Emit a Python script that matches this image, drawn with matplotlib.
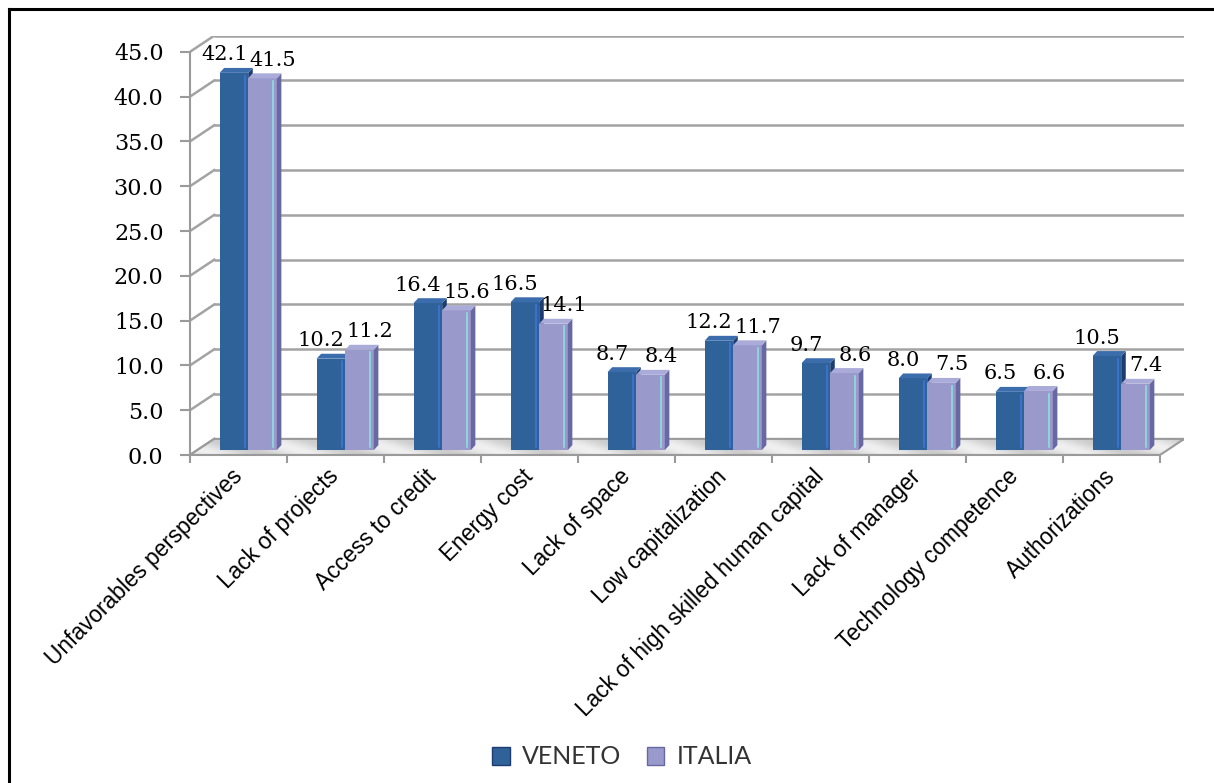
import numpy as np
import matplotlib.pyplot as plt
from matplotlib.patches import Polygon, Patch
from matplotlib.lines import Line2D

# dati
categories = ['Unfavorables perspectives', 'Lack of projects', 'Access to credit',
              'Energy cost', 'Lack of space', 'Low capitalization',
              'Lack of high skilled human capital', 'Lack of manager',
              'Technology competence', 'Authorizations']
veneto = [42.1, 10.2, 16.4, 16.5, 8.7, 12.2, 9.7, 8.0, 6.5, 10.5]
italia = [41.5, 11.2, 15.6, 14.1, 8.4, 11.7, 8.6, 7.5, 6.6, 7.4]
yticks = [0, 5, 10, 15, 20, 25, 30, 35, 40, 45]
series_names = ['VENETO', 'ITALIA']

W, H = 1214, 783
fig = plt.figure(figsize=(W / 100, H / 100), dpi=100)

# finto 3D: profondita' della parete di fondo e posizione delle barre
n = len(categories)
ymax = 45
DX, DY = 0.25, 1.8     # parete di fondo
BX, BY = 0.1, 0.55     # barre a meta' profondita'
SX, SY = 0.047, 0.55   # spessore laterale / faccia superiore
bw = 0.295

ax = fig.add_axes([190 / W, (H - 455) / H, (n + DX) * 97 / W, (ymax + DY) * 8.96 / H])
ax.patch.set_visible(False)

grid_c = '#a3a3a3'
for v in yticks:
    ax.plot([DX, n + DX], [v + DY, v + DY], color=grid_c, lw=1.8, zorder=1,
            solid_capstyle='butt')
    ax.plot([0, DX], [v, v + DY], color=grid_c, lw=1.8, zorder=1)

# pavimento
floor = Polygon([(0, 0), (n, 0), (n + DX, DY), (DX, DY)], closed=True,
                fc='none', ec='#9a9a9a', lw=1.5, zorder=2)
ax.add_patch(floor)
gx, gy = np.meshgrid(np.linspace(0, n + DX, 600), np.linspace(0, DY, 30))
tex = 0.87 + 0.07 * np.sin(2 * np.pi * (gx + 0.3 * gy))
img = ax.imshow(tex, extent=(0, n + DX, 0, DY), origin='lower', cmap='gray',
                vmin=0, vmax=1, aspect='auto', zorder=1.5, interpolation='bilinear')
img.set_clip_path(floor)


def bar3d(xs, vals, front, side, top, hl, z):
    ax.bar(xs, vals, width=bw, bottom=BY, align='edge', color=front, zorder=z)
    for x0, v in zip(xs, vals):
        x1 = x0 + bw
        ax.add_patch(Polygon([(x1, BY), (x1 + SX, BY + SY), (x1 + SX, v + BY + SY), (x1, v + BY)],
                             fc=side, ec='none', zorder=z))
        ax.add_patch(Polygon([(x0, v + BY), (x1, v + BY), (x1 + SX, v + BY + SY), (x0 + SX, v + BY + SY)],
                             fc=top, ec='none', zorder=z))
        ax.plot([x1 - 0.035, x1 - 0.035], [BY + 0.3, v + BY - 0.3], color=hl, lw=1.2, zorder=z)


x_ven = np.arange(n) + 0.5 + BX - bw
x_ita = np.arange(n) + 0.5 + BX
bar3d(x_ven, veneto, '#2f6299', '#1d3c72', '#3b6cab', '#3f74d8', 3)
bar3d(x_ita, italia, '#9999cc', '#6868a3', '#ababd9', '#8fdede', 4)

for i in range(n):
    ax.text(x_ven[i] + bw / 2 - 0.1, veneto[i] + BY + 2.0, f'{veneto[i]:.1f}',
            ha='center', va='center', fontsize=15, family='DejaVu Serif', zorder=6)
    ax.text(x_ita[i] + bw / 2 + 0.11, italia[i] + BY + 2.0, f'{italia[i]:.1f}',
            ha='center', va='center', fontsize=15, family='DejaVu Serif', zorder=6)

ax.set_xlim(0, n + DX)
ax.set_ylim(0, ymax + DY)

ax.set_yticks(yticks)
ax.set_yticklabels([f'{v:.1f}' for v in yticks], family='DejaVu Serif', fontsize=16)
ax.set_xticks(np.arange(n + 1))
ax.set_xticklabels([])
ax.set_xticks(np.arange(n) + 0.5, minor=True)
ax.set_xticklabels(categories, minor=True, family='Liberation Sans', fontsize=16.3)
ax.tick_params(axis='x', which='minor', length=0, pad=13)
ax.tick_params(axis='x', which='major', length=6, width=1.5, color='#9a9a9a')
ax.tick_params(axis='y', length=7, width=1.5, color='#9a9a9a', pad=12)
for lab in ax.get_xticklabels(minor=True):
    lab.set_rotation(45)
    lab.set_ha('right')
    lab.set_va('center')
    lab.set_rotation_mode('anchor')

for s in ['top', 'right']:
    ax.spines[s].set_visible(False)
for s in ['left', 'bottom']:
    ax.spines[s].set_color('#9a9a9a')
    ax.spines[s].set_linewidth(1.5)
ax.spines['left'].set_bounds(0, ymax)
ax.spines['bottom'].set_bounds(0, n)

# cornice
fig.add_artist(Line2D([9 / W, 9 / W], [0, 1 - 9 / H], color='black', lw=2.2))
fig.add_artist(Line2D([9 / W, 1], [1 - 9 / H, 1 - 9 / H], color='black', lw=2.2))

handles = [Patch(fc='#2f6299', ec='#1d3c72'), Patch(fc='#9999cc', ec='#6868a3')]
fig.legend(handles, series_names, loc='center', bbox_to_anchor=(622 / W, (H - 757) / H),
           ncol=2, frameon=False, prop={'family': 'Lato', 'size': 18},
           handlelength=0.7, handleheight=0.7, handletextpad=0.5, columnspacing=1.0,
           labelcolor='#333333')

fig.savefig('out.png', dpi=100)
